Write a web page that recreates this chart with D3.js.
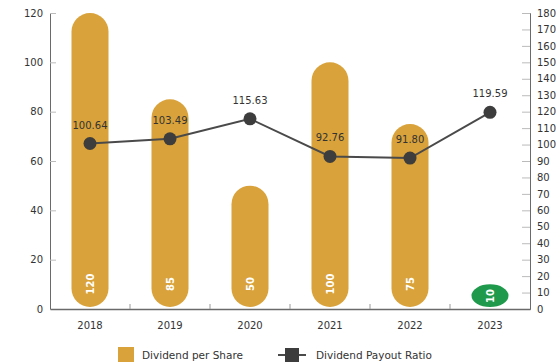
<!DOCTYPE html>
<html>
<head>
<meta charset="utf-8">
<script src="https://cdn.jsdelivr.net/npm/d3@7"></script>
<style>
  html, body { margin: 0; padding: 0; background: #fff; }
  svg { display: block; font-family: "DejaVu Sans", "Liberation Sans", Arial, sans-serif; }
</style>
</head>
<body>
<svg id="chart" width="560" height="364"></svg>
<script>
// Dividend history, 2018–2023
const years = ["2018", "2019", "2020", "2021", "2022", "2023"];
const dividendPerShare = [120, 85, 50, 100, 75, 10];
const payoutRatio = [100.64, 103.49, 115.63, 92.76, 91.80, 119.59];
const payoutLabels = ["100.64", "103.49", "115.63", "92.76", "91.80", "119.59"];
const leftTicks = [0, 20, 40, 60, 80, 100, 120];
const rightTicks = d3.range(0, 181, 10);
const seriesNames = ["Dividend per Share", "Dividend Payout Ratio"];

const svg = d3.select("#chart");
const margin = { left: 50, right: 30, top: 13, bottom: 55 };
const W = 560, H = 364;
const x0 = margin.left, x1 = W - margin.right;
const yTop = margin.top, yBot = H - margin.bottom;

const x = d3.scaleBand().domain(years).range([x0, x1]).paddingInner(0).paddingOuter(0);
const yL = d3.scaleLinear().domain([0, 120]).range([yBot, yTop]);
const yR = d3.scaleLinear().domain([0, 180]).range([yBot, yTop]);

const gold = "#d9a23a";
const green = "#1f9a4c";
const axisColor = "#6a6a6a";
const textColor = "#333";
const fs = 10;

// Bars (pill shaped)
const barW = 37;
const bars = svg.append("g");
const barH = i => yL(0) - yL(dividendPerShare[i]) - 2;
bars.selectAll("rect")
  .data(years)
  .join("rect")
  .attr("x", d => x(d) + x.bandwidth() / 2 - barW / 2)
  .attr("y", (d, i) => yL(dividendPerShare[i]))
  .attr("width", barW)
  .attr("height", (d, i) => barH(i))
  .attr("rx", barW / 2)
  .attr("ry", (d, i) => Math.min(barW / 2, barH(i) / 2))
  .attr("fill", (d, i) => i === years.length - 1 ? green : gold);

// Bar value labels (rotated, inside bar near base)
bars.selectAll("text")
  .data(years)
  .join("text")
  .attr("transform", (d, i) => {
    const cx = x(d) + x.bandwidth() / 2;
    const cy = i === years.length - 1 ? yL(0) - 13 : yL(0) - 25;
    return `translate(${cx + 3.5},${cy}) rotate(-90)`;
  })
  .attr("text-anchor", "middle")
  .attr("fill", "#fff")
  .attr("font-size", fs)
  .attr("font-weight", "bold")
  .text((d, i) => dividendPerShare[i]);

// Left axis
const gL = svg.append("g").attr("transform", `translate(${x0},0)`)
  .call(d3.axisLeft(yL).tickValues(leftTicks).tickSize(-6).tickPadding(7));
gL.select(".domain").attr("stroke", axisColor);
gL.selectAll(".tick line").attr("stroke", "#bbb");
gL.selectAll(".tick text").attr("fill", textColor).attr("font-size", fs).attr("font-family", "DejaVu Sans");

// Right axis
const gR = svg.append("g").attr("transform", `translate(${x1},0)`)
  .call(d3.axisRight(yR).tickValues(rightTicks).tickSize(-8).tickPadding(7));
gR.select(".domain").attr("stroke", axisColor);
gR.selectAll(".tick line").attr("stroke", "#bbb");
gR.selectAll(".tick text").attr("fill", textColor).attr("font-size", fs).attr("font-family", "DejaVu Sans");

// Bottom axis
const gB = svg.append("g").attr("transform", `translate(0,${yBot})`)
  .call(d3.axisBottom(x).tickSize(0).tickPadding(13));
gB.select(".domain").attr("stroke", axisColor).attr("stroke-width", 1.5);
gB.selectAll(".tick text").attr("fill", textColor).attr("font-size", fs).attr("font-family", "DejaVu Sans");
// separators between categories
svg.append("g").selectAll("line")
  .data(years.slice(1))
  .join("line")
  .attr("x1", d => x(d)).attr("x2", d => x(d))
  .attr("y1", yBot).attr("y2", yBot - 5)
  .attr("stroke", "#999");

// Payout ratio line
const cx = (d) => x(d) + x.bandwidth() / 2;
const line = d3.line().x((d, i) => cx(years[i])).y(d => yR(d));
svg.append("path")
  .datum(payoutRatio)
  .attr("d", line)
  .attr("fill", "none")
  .attr("stroke", "#4a4a4a")
  .attr("stroke-width", 2);
svg.append("g").selectAll("circle")
  .data(payoutRatio)
  .join("circle")
  .attr("cx", (d, i) => cx(years[i]))
  .attr("cy", d => yR(d))
  .attr("r", 6.5)
  .attr("fill", "#3d3d3d");
svg.append("g").selectAll("text")
  .data(payoutRatio)
  .join("text")
  .attr("x", (d, i) => cx(years[i]))
  .attr("y", d => yR(d) - 15)
  .attr("text-anchor", "middle")
  .attr("fill", textColor)
  .attr("font-size", fs)
  .text((d, i) => payoutLabels[i]);

// Legend
const lg = svg.append("g").attr("transform", `translate(0,355)`);
lg.append("rect").attr("x", 118).attr("y", -8).attr("width", 16).attr("height", 15).attr("fill", gold);
lg.append("text").attr("x", 142).attr("y", 4).attr("font-size", 10.5).attr("fill", textColor).text(seriesNames[0]);
lg.append("line").attr("x1", 278).attr("x2", 306).attr("y1", 0).attr("y2", 0).attr("stroke", "#4a4a4a").attr("stroke-width", 2);
lg.append("rect").attr("x", 285).attr("y", -7).attr("width", 14).attr("height", 14).attr("fill", "#3d3d3d");
lg.append("text").attr("x", 316).attr("y", 4).attr("font-size", 10.5).attr("fill", textColor).text(seriesNames[1]);
</script>
</body>
</html>
